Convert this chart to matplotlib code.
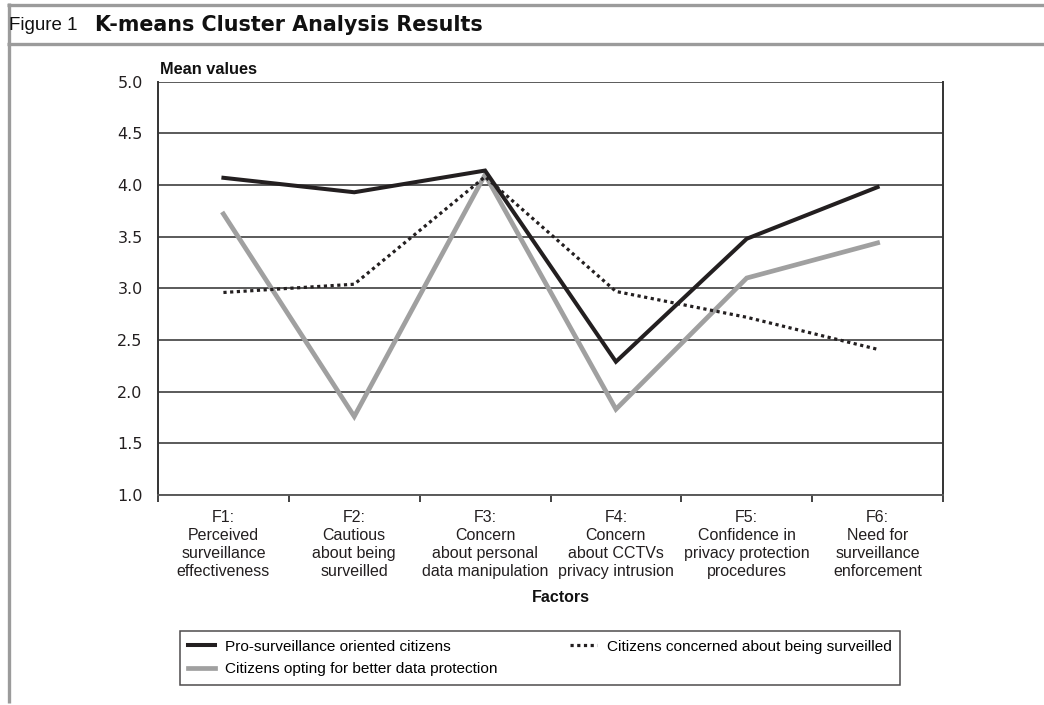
import matplotlib
matplotlib.use("Agg")
import matplotlib.pyplot as plt
from matplotlib.lines import Line2D

plt.rcParams['font.family'] = ['Liberation Sans', 'DejaVu Sans']

categories = ["F1:\nPerceived\nsurveillance\neffectiveness",
              "F2:\nCautious\nabout being\nsurveilled",
              "F3:\nConcern\nabout personal\ndata manipulation",
              "F4:\nConcern\nabout CCTVs\nprivacy intrusion",
              "F5:\nConfidence in\nprivacy protection\nprocedures",
              "F6:\nNeed for\nsurveillance\nenforcement"]
pro_surveillance = [4.07, 3.93, 4.14, 2.29, 3.48, 3.98]
concerned_surveilled = [2.96, 3.04, 4.08, 2.97, 2.72, 2.41]
better_protection = [3.72, 1.76, 4.10, 1.83, 3.10, 3.44]
yticks = [1.0, 1.5, 2.0, 2.5, 3.0, 3.5, 4.0, 4.5, 5.0]

W, H = 1044, 705
fig = plt.figure(figsize=(W/100, H/100), dpi=100)

ax = fig.add_axes([158/W, 1-495/H, (943-158)/W, (495-81.7)/H])
x = [i + 0.5 for i in range(len(categories))]

l1, = ax.plot(x, pro_surveillance, color='#231f20', lw=2.9, solid_joinstyle='miter', zorder=4,
              label='Pro-surveillance oriented citizens')
l3, = ax.plot(x, better_protection, color='#a0a0a0', lw=3.4, solid_joinstyle='miter', zorder=3,
              label='Citizens opting for better data protection')
l2, = ax.plot(x, concerned_surveilled, color='#231f20', lw=2.3, linestyle=(0, (1, 1.1)), zorder=5,
              label='Citizens concerned about being surveilled')

ax.set_xlim(0, 6)
ax.set_ylim(1.0, 5.0)
ax.set_yticks(yticks)
ax.set_yticklabels([f"{v:.1f}" for v in yticks], fontsize=11.5, color='#231f20', family='DejaVu Sans')
ax.yaxis.grid(True, color='#5a5a5a', lw=1.4)
ax.set_axisbelow(True)
ax.tick_params(axis='y', length=0, pad=11)

ax.set_xticks(range(7))
ax.set_xticklabels([])
ax.tick_params(axis='x', which='major', length=5, width=1.3, color='#333333', direction='out')
ax.set_xticks(x, minor=True)
ax.set_xticklabels(categories, minor=True, fontsize=11.5, linespacing=1.25, color='#231f20')
ax.tick_params(axis='x', which='minor', length=0, pad=11)

for s in ['left', 'right']:
    ax.spines[s].set_color('#333333')
    ax.spines[s].set_linewidth(1.4)
ax.spines['top'].set_visible(False)
ax.spines['bottom'].set_color('#5a5a5a')
ax.spines['bottom'].set_linewidth(1.4)

fig.text(160/W, 1-70/H, 'Mean values', fontsize=11.8, fontweight='bold', ha='left', va='center', color='#111111')
fig.text(561/W, 1-597/H, 'Factors', fontsize=11.5, fontweight='bold', ha='center', va='center', color='#111111')

# Header
fig.text(9/W, 1-25/H, 'Figure 1', fontsize=13.5, ha='left', va='center', color='#111111')
fig.text(95/W, 1-25/H, 'K-means Cluster Analysis Results', fontsize=14.9, fontweight='bold',
         family='DejaVu Sans', ha='left', va='center', color='#111111')
gray = '#9b9b9b'
fig.add_artist(Line2D([7/W, 1], [1-4.5/H, 1-4.5/H], color=gray, lw=2.4, solid_capstyle='butt'))
fig.add_artist(Line2D([7/W, 1], [1-43.5/H, 1-43.5/H], color=gray, lw=2.4, solid_capstyle='butt'))
fig.add_artist(Line2D([8.5/W, 8.5/W], [1-3/H, 1-703/H], color=gray, lw=2.4, solid_capstyle='butt'))

leg = fig.legend(handles=[l1, l3, l2], loc='upper left',
                 bbox_to_anchor=(180/W, 1-632/H, (900-180)/W, 0.001), mode='expand',
                 ncol=2, fontsize=11.1, frameon=True, fancybox=False, handlelength=1.75,
                 handletextpad=0.6, borderpad=0.55, labelspacing=0.55,
                 borderaxespad=0)
leg.get_frame().set_edgecolor('#231f20')
leg.get_frame().set_linewidth(1.1)

fig.savefig('out.png', dpi=100)
